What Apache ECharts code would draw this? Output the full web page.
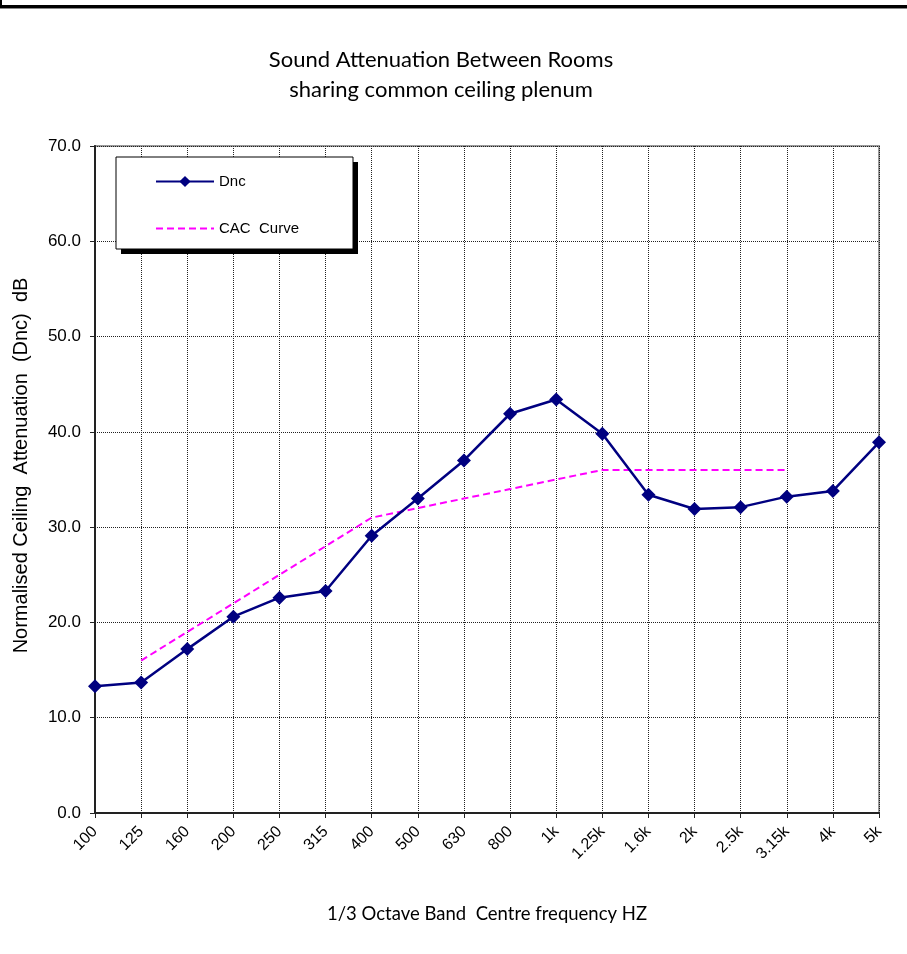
<!DOCTYPE html>
<html>
<head>
<meta charset="utf-8">
<script src="https://cdn.jsdelivr.net/npm/echarts@6/dist/echarts.min.js"></script>
<style>html,body{margin:0;padding:0;background:#fff;}#c{width:907px;height:954px;}</style>
</head>
<body>
<div id="c"></div>
<script>
var categories = ['100','125','160','200','250','315','400','500','630','800','1k','1.25k','1.6k','2k','2.5k','3.15k','4k','5k'];
var dncValues = [13.3,13.7,17.2,20.6,22.6,23.3,29.1,33.0,37.0,41.9,43.4,39.8,33.4,31.9,32.1,33.2,33.8,38.9];
var cacValues = [null,16,19,22,25,28,31,32,33,34,35,36,36,36,36,36,null,null];
var yTicks = [0,10,20,30,40,50,60,70];

var chart = echarts.init(document.getElementById('c'));
chart.setOption({
  backgroundColor: '#fff',
  animation: false,
  title: {
    text: 'Sound Attenuation Between Rooms\nsharing common ceiling plenum',
    left: 436, top: 40,
    textAlign: 'center',
    textStyle: {fontFamily: 'Lato', fontWeight: 'normal', fontSize: 22, color: '#000', lineHeight: 30, align: 'center'}
  },
  graphic: [
    {type: 'rect', shape: {x: 0, y: 5, width: 907, height: 3}, style: {fill: '#000'}},
    {type: 'rect', shape: {x: 0, y: 0, width: 2, height: 8}, style: {fill: '#000'}},
    {type: 'rect', shape: {x: 0, y: 8, width: 907, height: 1}, style: {fill: '#888'}},
    {type: 'rect', z: 20, shape: {x: 121, y: 162, width: 237, height: 92}, style: {fill: '#000'}},
    {type: 'rect', z: 21, shape: {x: 116, y: 157, width: 237, height: 92}, style: {fill: '#fff', stroke: '#000', lineWidth: 1}}
  ],
  legend: {
    left: 116, top: 157,
    orient: 'vertical',
    z: 30,
    padding: [17, 37, 15, 39],
    itemGap: 32,
    itemWidth: 58, itemHeight: 14,
    textStyle: {fontFamily: 'Liberation Sans', fontSize: 15, color: '#000'},
    data: [
      {name: 'Dnc'},
      {name: 'CAC  Curve', itemStyle: {opacity: 0}}
    ]
  },
  grid: {
    left: 95, right: 28, top: 146, bottom: 141,
    show: true, borderColor: '#999', borderWidth: 2, backgroundColor: 'transparent'
  },
  xAxis: {
    type: 'category', data: categories, boundaryGap: false,
    name: '1/3 Octave Band  Centre frequency HZ',
    nameLocation: 'middle', nameGap: 92,
    nameTextStyle: {fontFamily: 'Lato', fontSize: 18.5, color: '#000'},
    axisLine: {lineStyle: {color: '#222', width: 2}},
    axisTick: {show: true, length: 5, lineStyle: {color: '#222'}, alignWithLabel: true},
    axisLabel: {rotate: 45, fontFamily: 'Liberation Sans', fontSize: 16, color: '#000', margin: 16, interval: 0},
    splitLine: {show: true, lineStyle: {color: '#222', type: 'dotted', width: 1}}
  },
  yAxis: {
    type: 'value', min: 0, max: 70, interval: 10,
    name: 'Normalised Ceiling  Attenuation  (Dnc)  dB',
    nameLocation: 'middle', nameGap: 64,
    nameTextStyle: {fontFamily: 'Liberation Sans', fontSize: 20, color: '#000', padding: [0, 0, 0, 28]},
    axisLine: {show: true, lineStyle: {color: '#222', width: 2}},
    axisTick: {show: true, length: 5, lineStyle: {color: '#222'}},
    axisLabel: {fontFamily: 'Liberation Sans', fontSize: 17, color: '#000', margin: 14,
      formatter: function (v) { return yTicks.indexOf(v) >= 0 ? v.toFixed(1) : ''; }},
    splitLine: {show: true, lineStyle: {color: '#222', type: 'dotted', width: 1}}
  },
  series: [
    {
      name: 'Dnc', type: 'line', data: dncValues,
      symbol: 'diamond', symbolSize: 14,
      itemStyle: {color: '#000080'},
      lineStyle: {color: '#000080', width: 2.5},
      z: 5
    },
    {
      name: 'CAC  Curve', type: 'line', data: cacValues,
      symbol: 'none', showSymbol: false,
      itemStyle: {color: '#ff00ff'},
      lineStyle: {color: '#ff00ff', width: 2, type: [7, 4]},
      z: 4
    }
  ]
});
</script>
</body>
</html>
